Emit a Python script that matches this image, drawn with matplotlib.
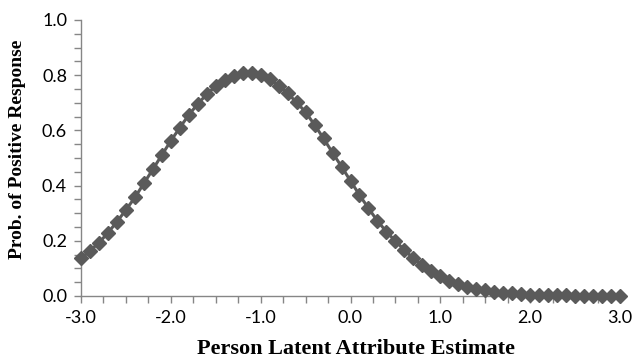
import matplotlib
matplotlib.use("Agg")
import matplotlib.pyplot as plt
from matplotlib.ticker import MultipleLocator, FormatStrFormatter

theta = [round(-3.0 + 0.1 * i, 1) for i in range(61)]
prob = [0.136, 0.164, 0.193, 0.229, 0.269, 0.312, 0.357, 0.408, 0.459, 0.511,
        0.562, 0.610, 0.656, 0.696, 0.731, 0.760, 0.783, 0.798, 0.807, 0.809,
        0.802, 0.785, 0.762, 0.734, 0.702, 0.666, 0.620, 0.571, 0.519, 0.469,
        0.417, 0.366, 0.318, 0.272, 0.233, 0.199, 0.167, 0.136, 0.112, 0.092,
        0.072, 0.056, 0.043, 0.034, 0.027, 0.021, 0.016, 0.012, 0.010, 0.007,
        0.005, 0.004, 0.003, 0.002, 0.002, 0.001, 0.001, 0.001, 0.000, 0.000,
        0.000]

xlabel = "Person Latent Attribute Estimate"
ylabel = "Prob. of Positive Response"

fig = plt.figure(figsize=(6.34, 3.6), dpi=100)
ax = fig.add_axes([81 / 634, 64 / 360, 539 / 634, 276 / 360])

color = "#5a5a5a"
ax.plot(theta, prob, color=color, lw=2.2, marker="D", markersize=7.5,
        markerfacecolor=color, markeredgecolor=color, clip_on=False, zorder=3)

ax.set_xlim(-3.0, 3.0)
ax.set_ylim(0.0, 1.0)
ax.xaxis.set_major_locator(MultipleLocator(1.0))
ax.xaxis.set_minor_locator(MultipleLocator(0.25))
ax.yaxis.set_major_locator(MultipleLocator(0.2))
ax.yaxis.set_minor_locator(MultipleLocator(0.05))
ax.xaxis.set_major_formatter(FormatStrFormatter("%.1f"))
ax.yaxis.set_major_formatter(FormatStrFormatter("%.1f"))

for s in ["top", "right"]:
    ax.spines[s].set_visible(False)
for s in ["left", "bottom"]:
    ax.spines[s].set_color("#868686")
    ax.spines[s].set_linewidth(1.0)

ax.tick_params(axis="both", which="both", direction="out", color="#868686",
               length=5, width=1.0)
ax.tick_params(axis="both", which="major", labelsize=13, pad=5)
for lab in ax.get_xticklabels() + ax.get_yticklabels():
    lab.set_fontfamily("Lato")

ax.set_xlabel(xlabel, fontfamily="Liberation Serif", fontweight="bold",
              fontsize=16, labelpad=5)
ax.set_ylabel(ylabel, fontfamily="Liberation Serif", fontweight="bold",
              fontsize=14)
ax.yaxis.set_label_coords(-0.102, 0.533)
ax.xaxis.set_label_coords(0.51, -0.155)

fig.savefig("out.png", dpi=100)
